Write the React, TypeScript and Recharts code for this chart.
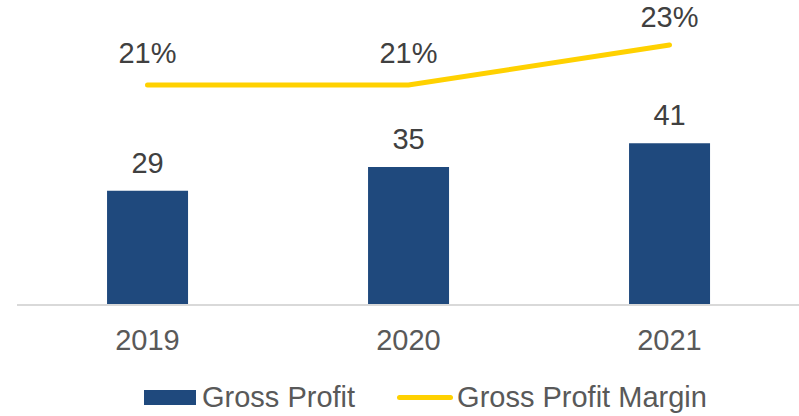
import { ComposedChart, Bar, Line, XAxis, YAxis, Legend, LabelList } from 'recharts'

const years = ['2019', '2020', '2021']
const grossProfit = [29, 35, 41]
const grossMargin = [21, 21, 23]

const data = years.map((year, i) => ({
  year,
  profit: grossProfit[i],
  margin: grossMargin[i],
}))

const FONT = 'Arial, "Liberation Sans", sans-serif'
const NAVY = '#1f497d'
const GOLD = '#ffd100'

function ChartLegend() {
  return (
    <div style={{ display: 'flex', alignItems: 'center', fontFamily: FONT, fontSize: 29, color: '#595959', whiteSpace: 'nowrap' }}>
      <span style={{ display: 'inline-block', width: 52, height: 15, background: NAVY, marginRight: 6 }} />
      <span>Gross Profit</span>
      <span style={{ display: 'inline-block', width: 56, height: 5, borderRadius: 3, background: GOLD, marginLeft: 42, marginRight: 4 }} />
      <span>Gross Profit Margin</span>
    </div>
  )
}

// the top point's label sits a bit closer to the line, like the original
function MarginLabel(props: any) {
  const { x, y, value } = props
  const gap = value >= 23 ? 18 : 22
  return (
    <text x={x} y={y - gap} textAnchor="middle" fill="#404040" fontSize={29} fontFamily={FONT}>
      {`${value}%`}
    </text>
  )
}

export default function App() {
  return (
    <div style={{ position: 'absolute', left: 0, top: 0 }}>
      <ComposedChart
        width={799}
        height={416}
        data={data}
        margin={{ top: 25, right: -1, bottom: 51, left: 17 }}
        barCategoryGap="34.5%"
      >
        <XAxis
          dataKey="year"
          height={60}
          tickLine={false}
          axisLine={{ stroke: '#d9d9d9', strokeWidth: 2 }}
          tick={{ fontSize: 29, fill: '#595959', fontFamily: FONT }}
          tickMargin={18}
        />
        <YAxis yAxisId="left" hide domain={[0, 71]} />
        <YAxis yAxisId="right" hide orientation="right" domain={[10, 24]} />
        <Legend
          verticalAlign="middle"
          align="center"
          wrapperStyle={{ top: 381, left: 144, width: 'auto' }}
          content={<ChartLegend />}
        />
        <Bar yAxisId="left" dataKey="profit" name="Gross Profit" fill={NAVY} isAnimationActive={false}>
          <LabelList dataKey="profit" position="top" offset={18} fill="#404040" fontSize={29} fontFamily={FONT} />
        </Bar>
        <Line
          yAxisId="right"
          dataKey="margin"
          name="Gross Profit Margin"
          type="linear"
          stroke={GOLD}
          strokeWidth={5}
          strokeLinecap="round"
          dot={false}
          isAnimationActive={false}
        >
          <LabelList dataKey="margin" content={<MarginLabel />} />
        </Line>
      </ComposedChart>
    </div>
  )
}
